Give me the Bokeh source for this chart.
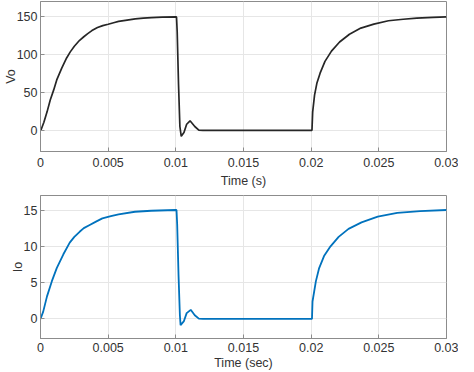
from bokeh.plotting import figure
from bokeh.layouts import column
from bokeh.models import FixedTicker, Range1d
from bokeh.embed import file_html
from bokeh.resources import INLINE

# ---- data ----
x_ticks = [0, 0.005, 0.01, 0.015, 0.02, 0.025, 0.03]
x_tick_labels = ["0", "0.005", "0.01", "0.015", "0.02", "0.025", "0.03"]
vo_ticks = [0, 50, 100, 150]
io_ticks = [0, 5, 10, 15]

t_vo = [0, 0.00005, 0.00025, 0.00048, 0.00072, 0.00097, 0.0012, 0.00157, 0.00193,
        0.0022, 0.0025, 0.00289, 0.0032, 0.00349, 0.0038, 0.00421, 0.0046, 0.005,
        0.0054, 0.00577, 0.0064, 0.007, 0.0076,
        0.0082, 0.009, 0.01, 0.01005, 0.0101, 0.0102, 0.0103, 0.0104, 0.0106,
        0.0108, 0.01105, 0.0114, 0.0117, 0.012, 0.02006, 0.02011, 0.02025,
        0.02042, 0.02066, 0.02102, 0.0215, 0.0221, 0.02283, 0.02367, 0.02463,
        0.02571, 0.0268, 0.0278, 0.029, 0.03]
vo = [0, 1, 10.7, 24, 40, 53, 66.5, 82, 95.5,
      103.5, 111, 118.8, 123.5, 127.6, 131.6, 135.7, 138.2, 140,
      142, 143.7, 145.5, 147, 148,
      148.8, 149.3, 149.6, 149.6, 130, 60, 5, -8, -3,
      8, 12.5, 5, 0.3, 0, 0, 24, 46.5,
      62, 75.4, 91, 104.5, 116.5, 126.8, 134.9, 140.2,
      144.6, 146.6, 148, 149, 149.6]

t_io = [0, 0.0002, 0.00048, 0.00084, 0.0012, 0.00169, 0.00216, 0.0025, 0.00289,
        0.0032, 0.0036, 0.0041, 0.00457, 0.0052, 0.00577, 0.00698, 0.00818,
        0.00999, 0.01005, 0.0101, 0.0102,
        0.0103, 0.01035, 0.0106, 0.0108, 0.0111, 0.0114, 0.0117, 0.012, 0.02006,
        0.0201, 0.02035, 0.02059, 0.02095, 0.02143, 0.02203, 0.02276, 0.02372,
        0.02492, 0.02636, 0.02805, 0.03]
io = [0, 1.0, 3.1, 5.2, 7.0, 8.9, 10.5, 11.3, 12.0,
      12.5, 12.9, 13.4, 13.85, 14.15, 14.4, 14.76, 14.9,
      15.0, 15.0, 13, 6,
      0.5, -0.85, -0.3, 0.8, 1.25, 0.5, 0.03, 0, 0,
      2.4, 5.2, 7.0, 8.65, 10.0, 11.3, 12.4, 13.3,
      14.1, 14.6, 14.86, 15.0]

FONT = "Liberation Sans"
TXT = "#333333"
FRAME = "#8c8c8c"
GRID = "#e6e6e6"


def make_fig(height, yr, yticks, ylabel, xlabel, top, bottom, xstand, xlstand):
    p = figure(width=458, height=height, output_backend="svg", toolbar_location=None,
               x_range=Range1d(0, 0.03), y_range=Range1d(*yr),
               min_border_left=30, min_border_right=12,
               min_border_top=top, min_border_bottom=bottom)
    p.xaxis.ticker = FixedTicker(ticks=x_ticks)
    p.xaxis.major_label_overrides = {t: s for t, s in zip(x_ticks, x_tick_labels)}
    p.yaxis.ticker = FixedTicker(ticks=yticks)
    p.xaxis.axis_label = xlabel
    p.yaxis.axis_label = ylabel
    for ax in (p.xaxis, p.yaxis):
        ax.axis_label_text_font = FONT
        ax.axis_label_text_font_size = "12.5px"
        ax.axis_label_text_font_style = "normal"
        ax.axis_label_text_color = TXT
        ax.major_label_text_font = FONT
        ax.major_label_text_font_size = "12.5px"
        ax.major_label_text_color = TXT
        ax.major_tick_in = 4
        ax.major_tick_out = 0
        ax.minor_tick_line_color = None
        ax.major_tick_line_color = FRAME
        ax.axis_line_color = FRAME
    p.yaxis.major_label_standoff = 3
    p.yaxis.axis_label_standoff = -4
    p.xaxis.major_label_standoff = xstand
    p.xaxis.axis_label_standoff = xlstand
    p.grid.grid_line_color = GRID
    p.outline_line_color = FRAME
    p.background_fill_color = "white"
    p.border_fill_color = "white"
    return p


p1 = make_fig(190, (-28, 170), vo_ticks, "Vo", "Time (s)", 1, 20, 6, 4)
p1.line(t_vo, vo, line_color="#262626", line_width=1.7)

p2 = make_fig(182, (-2.7, 17), io_ticks, "Io", "Time (sec)", 5, 20, 4, 1)
p2.line(t_io, io, line_color="#0072BD", line_width=1.8)

layout = column(p1, p2, spacing=0)
open("out.html", "w").write(file_html(layout, INLINE))
